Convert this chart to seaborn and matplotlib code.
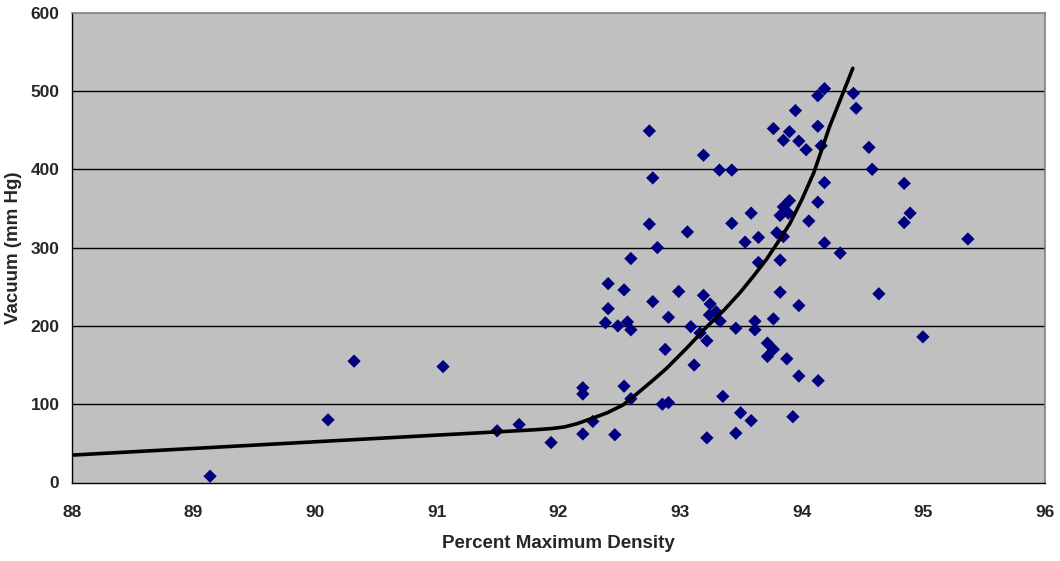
import matplotlib
matplotlib.use("Agg")
import matplotlib.pyplot as plt
import seaborn as sns
import pandas as pd

# Scatter data: Percent Maximum Density vs Vacuum (mm Hg)
density = [89.135, 90.105, 90.319, 91.051, 91.495, 91.676, 91.939, 92.200, 92.200, 92.200,
           92.282, 92.386, 92.408, 92.408, 92.463, 92.488, 92.539, 92.539, 92.567, 92.595,
           92.595, 92.595, 92.747, 92.747, 92.775, 92.775, 92.813, 92.854, 92.877, 92.904,
           92.904, 92.988, 93.060, 93.088, 93.115, 93.164, 93.192, 93.192, 93.220, 93.220,
           93.247, 93.241, 93.296, 93.329, 93.323, 93.351, 93.425, 93.425, 93.458, 93.458,
           93.497, 93.534, 93.584, 93.584, 93.615, 93.615, 93.644, 93.644, 93.718, 93.718,
           93.767, 93.767, 93.767, 93.795, 93.822, 93.822, 93.822, 93.849, 93.849, 93.849,
           93.877, 93.890, 93.899, 93.899, 93.927, 93.948, 93.976, 93.976, 93.976, 94.036,
           94.058, 94.132, 94.132, 94.132, 94.135, 94.160, 94.187, 94.187, 94.187, 94.316,
           94.425, 94.447, 94.552, 94.579, 94.634, 94.842, 94.842, 94.891, 94.996, 95.366]
vacuum = [8, 80, 155, 148, 66, 74, 51, 121, 113, 62,
          78, 204, 254, 222, 61, 200, 246, 123, 205, 195,
          286, 107, 449, 330, 389, 231, 300, 100, 170, 102,
          211, 244, 320, 199, 150, 191, 418, 239, 181, 57,
          228, 214, 218, 206, 399, 110, 399, 331, 197, 63,
          89, 307, 344, 79, 206, 195, 313, 281, 178, 161,
          170, 209, 452, 319, 341, 284, 243, 437, 352, 314,
          158, 344, 448, 360, 84, 475, 436, 226, 136, 425,
          334, 494, 455, 358, 130, 430, 503, 383, 306, 293,
          497, 478, 428, 400, 241, 382, 332, 344, 186, 311]

# Trend curve
curve_x = [88.0, 89.0, 90.0, 91.0, 91.5, 91.8, 91.95, 92.05, 92.15, 92.26, 92.4, 92.53, 92.65,
           92.78, 92.89, 93.05, 93.22, 93.36, 93.49, 93.6, 93.71, 93.8, 93.9, 94.0, 94.1,
           94.23, 94.32, 94.42]
curve_y = [35, 43.5, 52, 60.5, 64.7, 67.3, 69, 71, 75, 81, 89, 99, 114,
           131, 146, 171, 199, 220, 242, 263, 285, 306, 330, 361, 396,
           455, 490, 529]

x_ticks = [88, 89, 90, 91, 92, 93, 94, 95, 96]
y_ticks = [0, 100, 200, 300, 400, 500, 600]

pts = pd.DataFrame({"density": density, "vacuum": vacuum})
trend = pd.DataFrame({"x": curve_x, "y": curve_y})

sns.set_style("white")
plt.rcParams["font.family"] = ["Liberation Sans", "DejaVu Sans"]

fig = plt.figure(figsize=(10.6, 5.61), dpi=100)
ax = fig.add_axes([72 / 1060, 1 - 482.5 / 561, (1045 - 72) / 1060, (482.5 - 12.7) / 561])
ax.set_facecolor("#C0C0C0")

for yv in y_ticks[1:-1]:
    ax.axhline(yv, color="black", lw=1.0, zorder=1)

sns.scatterplot(data=pts, x="density", y="vacuum", marker="D", s=46, color="#000080",
                edgecolor="none", linewidth=0, ax=ax, zorder=3)
sns.lineplot(data=trend, x="x", y="y", sort=False, estimator=None, color="black",
             lw=2.6, ax=ax, zorder=4)

ax.set_xlim(88, 96)
ax.set_ylim(0, 600)
ax.set_xticks(x_ticks)
ax.set_yticks(y_ticks)
ax.set_xticklabels([str(v) for v in x_ticks])
ax.set_yticklabels([str(v) for v in y_ticks])
for lab in ax.get_xticklabels() + ax.get_yticklabels():
    lab.set_fontsize(12.5)
    lab.set_fontweight("bold")
ax.tick_params(axis="both", direction="out", length=5, width=1, color="black")
ax.tick_params(axis="x", pad=11)
ax.tick_params(axis="y", pad=4)

ax.set_xlabel("Percent Maximum Density", fontsize=13.5, fontweight="bold", labelpad=11)
ax.set_ylabel("Vacuum (mm Hg)", fontsize=13.5, fontweight="bold", labelpad=6)

for side in ["left", "bottom"]:
    ax.spines[side].set_color("black")
    ax.spines[side].set_linewidth(1.0)
for side in ["top", "right"]:
    ax.spines[side].set_color("#808080")
    ax.spines[side].set_linewidth(1.2)
    ax.spines[side].set_visible(True)

fig.savefig("out.png", dpi=100, facecolor="white")
